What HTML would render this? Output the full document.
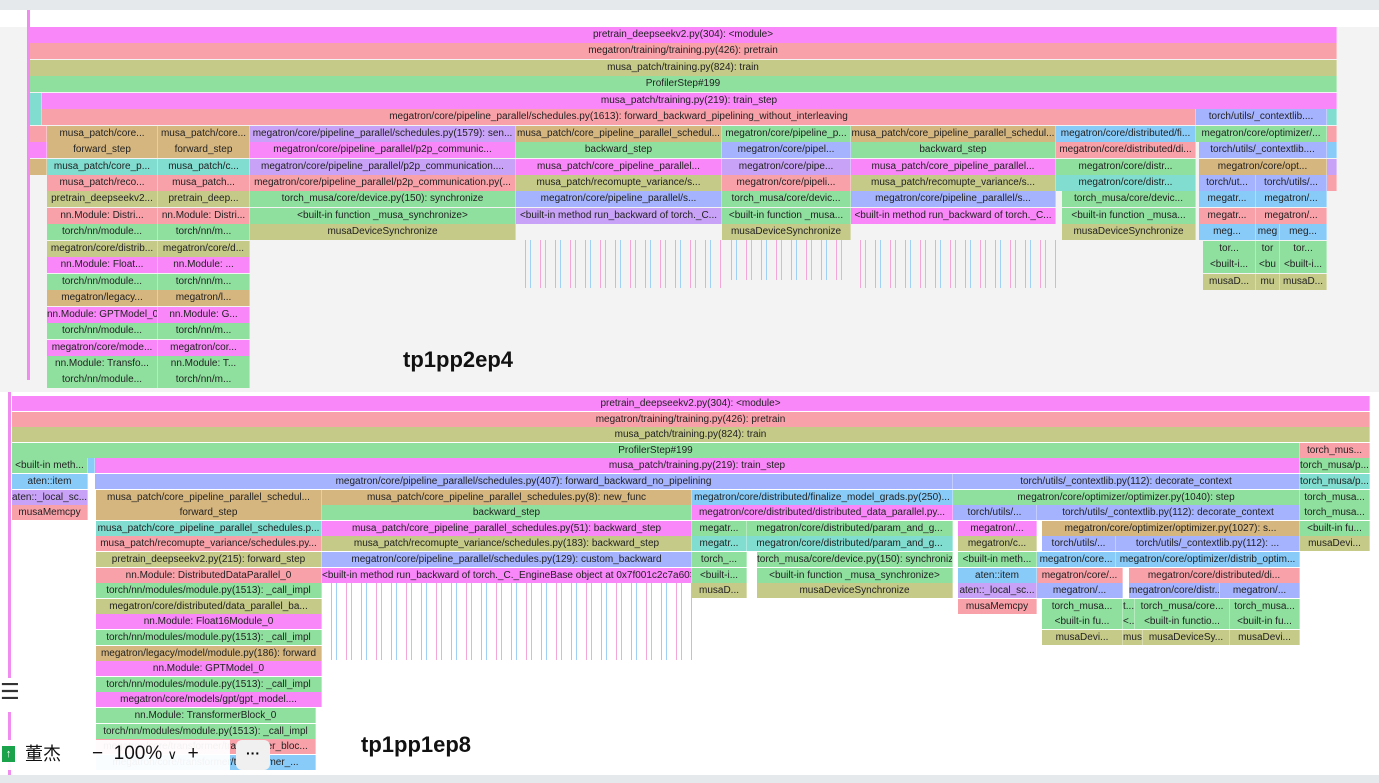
<!DOCTYPE html>
<html><head><meta charset="utf-8"><style>
body{margin:0;width:1379px;height:783px;position:relative;overflow:hidden;background:#fff;font-family:"Liberation Sans Narrow","Liberation Sans","Noto Sans CJK SC",sans-serif}
.d{position:absolute;overflow:hidden;white-space:nowrap;text-align:center;font-size:10px;color:#222;box-sizing:border-box;border-right:1px solid rgba(255,255,255,.35)}
.T{height:16px;line-height:16px}.B{height:15px;line-height:15px}
.p{background:#fa87fa}.s{background:#f9a1a9}.o{background:#c5ca88}.g{background:#8fe09e}.c{background:#80ddd0}.b{background:#a5b3ff}.l{background:#88cbf9}.t{background:#d6b67f}.v{background:#c8a2f7}
.st{position:absolute;background:repeating-linear-gradient(90deg,transparent 0 9px,#f4a6d8 9px 10px,transparent 10px 14px,#9fd0f5 14px 15px)}
.lab{position:absolute;font:bold 22px "Liberation Sans",sans-serif;color:#111}
</style></head><body>
<div style="position:absolute;left:0;top:0;width:1379px;height:10px;background:#e6e9ec"></div>
<div style="position:absolute;left:0;top:27px;width:1379px;height:365px;background:#f3f3f3"></div>
<div style="position:absolute;left:27px;top:10px;width:3px;height:370px;background:#f08cf0"></div>
<div style="position:absolute;left:0;top:775px;width:1379px;height:8px;background:#e6e9ec"></div>
<div style="position:absolute;left:8px;top:392px;width:3px;height:383px;background:#f08cf0"></div>

<!-- TOP PANEL -->
<div class="d T p" style="left:30px;top:27px;width:1307px">pretrain_deepseekv2.py(304): &lt;module&gt;</div>
<div class="d T s" style="left:30px;top:43px;width:1307px">megatron/training/training.py(426): pretrain</div>
<div class="d T o" style="left:30px;top:60px;width:1307px">musa_patch/training.py(824): train</div>
<div class="d T g" style="left:30px;top:76px;width:1307px">ProfilerStep#199</div>
<div class="d T c" style="left:30px;top:93px;width:12px"></div>
<div class="d T p" style="left:42px;top:93px;width:1295px">musa_patch/training.py(219): train_step</div>
<div class="d T c" style="left:30px;top:109px;width:12px"></div>
<div class="d T s" style="left:42px;top:109px;width:1154px">megatron/core/pipeline_parallel/schedules.py(1613): forward_backward_pipelining_without_interleaving</div>
<div class="d T b" style="left:1196px;top:109px;width:131px">torch/utils/_contextlib....</div>
<div class="d T c" style="left:1327px;top:109px;width:10px"></div>

<div class="d T s" style="left:30px;top:126px;width:17px"></div>
<div class="d T t" style="left:47px;top:126px;width:111px">musa_patch/core...</div>
<div class="d T t" style="left:158px;top:126px;width:92px">musa_patch/core...</div>
<div class="d T v" style="left:250px;top:126px;width:266px">megatron/core/pipeline_parallel/schedules.py(1579): sen...</div>
<div class="d T t" style="left:516px;top:126px;width:206px">musa_patch/core_pipeline_parallel_schedul...</div>
<div class="d T g" style="left:722px;top:126px;width:129px">megatron/core/pipeline_p...</div>
<div class="d T t" style="left:851px;top:126px;width:205px">musa_patch/core_pipeline_parallel_schedul...</div>
<div class="d T l" style="left:1056px;top:126px;width:140px">megatron/core/distributed/fi...</div>
<div class="d T g" style="left:1196px;top:126px;width:131px">megatron/core/optimizer/...</div>
<div class="d T s" style="left:1327px;top:126px;width:10px"></div>

<div class="d T p" style="left:30px;top:142px;width:17px"></div>
<div class="d T t" style="left:47px;top:142px;width:111px">forward_step</div>
<div class="d T t" style="left:158px;top:142px;width:92px">forward_step</div>
<div class="d T p" style="left:250px;top:142px;width:266px">megatron/core/pipeline_parallel/p2p_communic...</div>
<div class="d T g" style="left:516px;top:142px;width:206px">backward_step</div>
<div class="d T b" style="left:722px;top:142px;width:129px">megatron/core/pipel...</div>
<div class="d T g" style="left:851px;top:142px;width:205px">backward_step</div>
<div class="d T s" style="left:1056px;top:142px;width:140px">megatron/core/distributed/di...</div>
<div class="d T b" style="left:1199px;top:142px;width:128px">torch/utils/_contextlib....</div>
<div class="d T l" style="left:1327px;top:142px;width:10px"></div>

<div class="d T t" style="left:30px;top:159px;width:17px"></div>
<div class="d T c" style="left:47px;top:159px;width:111px">musa_patch/core_p...</div>
<div class="d T c" style="left:158px;top:159px;width:92px">musa_patch/c...</div>
<div class="d T v" style="left:250px;top:159px;width:266px">megatron/core/pipeline_parallel/p2p_communication....</div>
<div class="d T p" style="left:516px;top:159px;width:206px">musa_patch/core_pipeline_parallel...</div>
<div class="d T v" style="left:722px;top:159px;width:129px">megatron/core/pipe...</div>
<div class="d T p" style="left:851px;top:159px;width:205px">musa_patch/core_pipeline_parallel...</div>
<div class="d T g" style="left:1056px;top:159px;width:140px">megatron/core/distr...</div>
<div class="d T t" style="left:1199px;top:159px;width:128px">megatron/core/opt...</div>
<div class="d T v" style="left:1327px;top:159px;width:10px"></div>

<div class="d T s" style="left:47px;top:175px;width:111px">musa_patch/reco...</div>
<div class="d T s" style="left:158px;top:175px;width:92px">musa_patch...</div>
<div class="d T s" style="left:250px;top:175px;width:266px">megatron/core/pipeline_parallel/p2p_communication.py(...</div>
<div class="d T o" style="left:516px;top:175px;width:206px">musa_patch/recomupte_variance/s...</div>
<div class="d T s" style="left:722px;top:175px;width:129px">megatron/core/pipeli...</div>
<div class="d T o" style="left:851px;top:175px;width:205px">musa_patch/recomupte_variance/s...</div>
<div class="d T c" style="left:1056px;top:175px;width:140px">megatron/core/distr...</div>
<div class="d T b" style="left:1199px;top:175px;width:57px">torch/ut...</div>
<div class="d T b" style="left:1256px;top:175px;width:71px">torch/utils/...</div>
<div class="d T s" style="left:1327px;top:175px;width:10px"></div>

<div class="d T o" style="left:47px;top:191px;width:111px">pretrain_deepseekv2...</div>
<div class="d T o" style="left:158px;top:191px;width:92px">pretrain_deep...</div>
<div class="d T g" style="left:250px;top:191px;width:266px">torch_musa/core/device.py(150): synchronize</div>
<div class="d T b" style="left:516px;top:191px;width:206px">megatron/core/pipeline_parallel/s...</div>
<div class="d T g" style="left:722px;top:191px;width:129px">torch_musa/core/devic...</div>
<div class="d T b" style="left:851px;top:191px;width:205px">megatron/core/pipeline_parallel/s...</div>
<div class="d T g" style="left:1062px;top:191px;width:134px">torch_musa/core/devic...</div>
<div class="d T l" style="left:1199px;top:191px;width:57px">megatr...</div>
<div class="d T l" style="left:1256px;top:191px;width:71px">megatron/...</div>

<div class="d T s" style="left:47px;top:208px;width:111px">nn.Module: Distri...</div>
<div class="d T s" style="left:158px;top:208px;width:92px">nn.Module: Distri...</div>
<div class="d T g" style="left:250px;top:208px;width:266px">&lt;built-in function _musa_synchronize&gt;</div>
<div class="d T v" style="left:516px;top:208px;width:206px">&lt;built-in method run_backward of torch._C...</div>
<div class="d T g" style="left:722px;top:208px;width:129px">&lt;built-in function _musa...</div>
<div class="d T p" style="left:851px;top:208px;width:205px">&lt;built-in method run_backward of torch._C...</div>
<div class="d T g" style="left:1062px;top:208px;width:134px">&lt;built-in function _musa...</div>
<div class="d T s" style="left:1199px;top:208px;width:57px">megatr...</div>
<div class="d T s" style="left:1256px;top:208px;width:71px">megatron/...</div>

<div class="d T g" style="left:47px;top:224px;width:111px">torch/nn/module...</div>
<div class="d T g" style="left:158px;top:224px;width:92px">torch/nn/m...</div>
<div class="d T o" style="left:250px;top:224px;width:266px">musaDeviceSynchronize</div>
<div class="d T o" style="left:722px;top:224px;width:129px">musaDeviceSynchronize</div>
<div class="d T o" style="left:1062px;top:224px;width:134px">musaDeviceSynchronize</div>
<div class="d T l" style="left:1199px;top:224px;width:57px">meg...</div>
<div class="d T l" style="left:1256px;top:224px;width:24px">meg</div>
<div class="d T l" style="left:1280px;top:224px;width:47px">meg...</div>

<div class="d T o" style="left:47px;top:241px;width:111px">megatron/core/distrib...</div>
<div class="d T o" style="left:158px;top:241px;width:92px">megatron/core/d...</div>
<div class="d T g" style="left:1203px;top:241px;width:53px">tor...</div>
<div class="d T g" style="left:1256px;top:241px;width:24px">tor</div>
<div class="d T g" style="left:1280px;top:241px;width:47px">tor...</div>

<div class="d T p" style="left:47px;top:257px;width:111px">nn.Module: Float...</div>
<div class="d T p" style="left:158px;top:257px;width:92px">nn.Module: ...</div>
<div class="d T g" style="left:1203px;top:257px;width:53px">&lt;built-i...</div>
<div class="d T g" style="left:1256px;top:257px;width:24px">&lt;bu</div>
<div class="d T g" style="left:1280px;top:257px;width:47px">&lt;built-i...</div>

<div class="d T g" style="left:47px;top:274px;width:111px">torch/nn/module...</div>
<div class="d T g" style="left:158px;top:274px;width:92px">torch/nn/m...</div>
<div class="d T o" style="left:1203px;top:274px;width:53px">musaD...</div>
<div class="d T o" style="left:1256px;top:274px;width:24px">mu</div>
<div class="d T o" style="left:1280px;top:274px;width:47px">musaD...</div>

<div class="d T t" style="left:47px;top:290px;width:111px">megatron/legacy...</div>
<div class="d T t" style="left:158px;top:290px;width:92px">megatron/l...</div>
<div class="d T p" style="left:47px;top:307px;width:111px">nn.Module: GPTModel_0</div>
<div class="d T p" style="left:158px;top:307px;width:92px">nn.Module: G...</div>
<div class="d T g" style="left:47px;top:323px;width:111px">torch/nn/module...</div>
<div class="d T g" style="left:158px;top:323px;width:92px">torch/nn/m...</div>
<div class="d T p" style="left:47px;top:340px;width:111px">megatron/core/mode...</div>
<div class="d T p" style="left:158px;top:340px;width:92px">megatron/cor...</div>
<div class="d T g" style="left:47px;top:356px;width:111px">nn.Module: Transfo...</div>
<div class="d T g" style="left:158px;top:356px;width:92px">nn.Module: T...</div>
<div class="d T g" style="left:47px;top:372px;width:111px">torch/nn/module...</div>
<div class="d T g" style="left:158px;top:372px;width:92px">torch/nn/m...</div>

<div class="st" style="left:516px;top:240px;width:206px;height:48px"></div>
<div class="st" style="left:851px;top:240px;width:205px;height:48px"></div>
<div class="st" style="left:722px;top:240px;width:129px;height:40px"></div>
<div class="lab" style="left:403px;top:347px">tp1pp2ep4</div>

<!-- BOTTOM PANEL -->
<div class="d B p" style="left:12px;top:396px;width:1358px">pretrain_deepseekv2.py(304): &lt;module&gt;</div>
<div class="d B s" style="left:12px;top:412px;width:1358px">megatron/training/training.py(426): pretrain</div>
<div class="d B o" style="left:12px;top:427px;width:1358px">musa_patch/training.py(824): train</div>
<div class="d B g" style="left:12px;top:443px;width:1288px">ProfilerStep#199</div>
<div class="d B s" style="left:1300px;top:443px;width:70px">torch_mus...</div>
<div class="d B g" style="left:12px;top:458px;width:76px">&lt;built-in meth...</div>
<div class="d B l" style="left:88px;top:458px;width:7px"></div>
<div class="d B p" style="left:95px;top:458px;width:1205px">musa_patch/training.py(219): train_step</div>
<div class="d B g" style="left:1300px;top:458px;width:70px">torch_musa/p...</div>
<div class="d B l" style="left:12px;top:474px;width:76px">aten::item</div>
<div class="d B b" style="left:95px;top:474px;width:858px">megatron/core/pipeline_parallel/schedules.py(407): forward_backward_no_pipelining</div>
<div class="d B b" style="left:953px;top:474px;width:347px">torch/utils/_contextlib.py(112): decorate_context</div>
<div class="d B c" style="left:1300px;top:474px;width:70px">torch_musa/p...</div>

<div class="d B v" style="left:12px;top:490px;width:76px">aten::_local_sc...</div>
<div class="d B t" style="left:96px;top:490px;width:226px">musa_patch/core_pipeline_parallel_schedul...</div>
<div class="d B t" style="left:322px;top:490px;width:370px">musa_patch/core_pipeline_parallel_schedules.py(8): new_func</div>
<div class="d B l" style="left:692px;top:490px;width:261px">megatron/core/distributed/finalize_model_grads.py(250)...</div>
<div class="d B g" style="left:953px;top:490px;width:347px">megatron/core/optimizer/optimizer.py(1040): step</div>
<div class="d B g" style="left:1300px;top:490px;width:70px">torch_musa...</div>

<div class="d B s" style="left:12px;top:505px;width:76px">musaMemcpy</div>
<div class="d B t" style="left:96px;top:505px;width:226px">forward_step</div>
<div class="d B g" style="left:322px;top:505px;width:370px">backward_step</div>
<div class="d B p" style="left:692px;top:505px;width:261px">megatron/core/distributed/distributed_data_parallel.py...</div>
<div class="d B b" style="left:953px;top:505px;width:84px">torch/utils/...</div>
<div class="d B b" style="left:1037px;top:505px;width:263px">torch/utils/_contextlib.py(112): decorate_context</div>
<div class="d B g" style="left:1300px;top:505px;width:70px">torch_musa...</div>

<div class="d B c" style="left:96px;top:521px;width:226px">musa_patch/core_pipeline_parallel_schedules.p...</div>
<div class="d B p" style="left:322px;top:521px;width:370px">musa_patch/core_pipeline_parallel_schedules.py(51): backward_step</div>
<div class="d B g" style="left:692px;top:521px;width:55px">megatr...</div>
<div class="d B g" style="left:747px;top:521px;width:206px">megatron/core/distributed/param_and_g...</div>
<div class="d B p" style="left:958px;top:521px;width:79px">megatron/...</div>
<div class="d B t" style="left:1042px;top:521px;width:258px">megatron/core/optimizer/optimizer.py(1027): s...</div>
<div class="d B g" style="left:1300px;top:521px;width:70px">&lt;built-in fu...</div>

<div class="d B s" style="left:96px;top:536px;width:226px">musa_patch/recomupte_variance/schedules.py...</div>
<div class="d B o" style="left:322px;top:536px;width:370px">musa_patch/recomupte_variance/schedules.py(183): backward_step</div>
<div class="d B c" style="left:692px;top:536px;width:55px">megatr...</div>
<div class="d B c" style="left:747px;top:536px;width:206px">megatron/core/distributed/param_and_g...</div>
<div class="d B o" style="left:958px;top:536px;width:79px">megatron/c...</div>
<div class="d B b" style="left:1042px;top:536px;width:74px">torch/utils/...</div>
<div class="d B b" style="left:1116px;top:536px;width:184px">torch/utils/_contextlib.py(112): ...</div>
<div class="d B o" style="left:1300px;top:536px;width:70px">musaDevi...</div>

<div class="d B o" style="left:96px;top:552px;width:226px">pretrain_deepseekv2.py(215): forward_step</div>
<div class="d B b" style="left:322px;top:552px;width:370px">megatron/core/pipeline_parallel/schedules.py(129): custom_backward</div>
<div class="d B g" style="left:692px;top:552px;width:55px">torch_...</div>
<div class="d B g" style="left:757px;top:552px;width:196px">torch_musa/core/device.py(150): synchronize</div>
<div class="d B g" style="left:958px;top:552px;width:79px">&lt;built-in meth...</div>
<div class="d B l" style="left:1037px;top:552px;width:79px">megatron/core...</div>
<div class="d B l" style="left:1116px;top:552px;width:184px">megatron/core/optimizer/distrib_optim...</div>

<div class="d B s" style="left:96px;top:568px;width:226px">nn.Module: DistributedDataParallel_0</div>
<div class="d B p" style="left:322px;top:568px;width:370px">&lt;built-in method run_backward of torch._C._EngineBase object at 0x7f001c2c7a60&gt;</div>
<div class="d B g" style="left:692px;top:568px;width:55px">&lt;built-i...</div>
<div class="d B g" style="left:757px;top:568px;width:196px">&lt;built-in function _musa_synchronize&gt;</div>
<div class="d B l" style="left:958px;top:568px;width:79px">aten::item</div>
<div class="d B s" style="left:1037px;top:568px;width:86px">megatron/core/...</div>
<div class="d B s" style="left:1129px;top:568px;width:171px">megatron/core/distributed/di...</div>

<div class="d B g" style="left:96px;top:583px;width:226px">torch/nn/modules/module.py(1513): _call_impl</div>
<div class="d B o" style="left:692px;top:583px;width:55px">musaD...</div>
<div class="d B o" style="left:757px;top:583px;width:196px">musaDeviceSynchronize</div>
<div class="d B v" style="left:958px;top:583px;width:79px">aten::_local_sc...</div>
<div class="d B b" style="left:1037px;top:583px;width:86px">megatron/...</div>
<div class="d B b" style="left:1129px;top:583px;width:91px">megatron/core/distr...</div>
<div class="d B b" style="left:1220px;top:583px;width:80px">megatron/...</div>

<div class="d B o" style="left:96px;top:599px;width:226px">megatron/core/distributed/data_parallel_ba...</div>
<div class="d B s" style="left:958px;top:599px;width:79px">musaMemcpy</div>
<div class="d B g" style="left:1042px;top:599px;width:81px">torch_musa...</div>
<div class="d B g" style="left:1123px;top:599px;width:12px">t...</div>
<div class="d B g" style="left:1135px;top:599px;width:95px">torch_musa/core...</div>
<div class="d B g" style="left:1230px;top:599px;width:70px">torch_musa...</div>

<div class="d B p" style="left:96px;top:614px;width:226px">nn.Module: Float16Module_0</div>
<div class="d B g" style="left:1042px;top:614px;width:81px">&lt;built-in fu...</div>
<div class="d B g" style="left:1123px;top:614px;width:12px">&lt;...</div>
<div class="d B g" style="left:1135px;top:614px;width:95px">&lt;built-in functio...</div>
<div class="d B g" style="left:1230px;top:614px;width:70px">&lt;built-in fu...</div>

<div class="d B g" style="left:96px;top:630px;width:226px">torch/nn/modules/module.py(1513): _call_impl</div>
<div class="d B o" style="left:1042px;top:630px;width:81px">musaDevi...</div>
<div class="d B o" style="left:1123px;top:630px;width:20px">mus</div>
<div class="d B o" style="left:1143px;top:630px;width:87px">musaDeviceSy...</div>
<div class="d B o" style="left:1230px;top:630px;width:70px">musaDevi...</div>

<div class="d B t" style="left:96px;top:646px;width:226px">megatron/legacy/model/module.py(186): forward</div>
<div class="d B p" style="left:96px;top:661px;width:226px">nn.Module: GPTModel_0</div>
<div class="d B g" style="left:96px;top:677px;width:226px">torch/nn/modules/module.py(1513): _call_impl</div>
<div class="d B p" style="left:96px;top:692px;width:226px">megatron/core/models/gpt/gpt_model....</div>
<div class="d B g" style="left:96px;top:708px;width:220px">nn.Module: TransformerBlock_0</div>
<div class="d B g" style="left:96px;top:724px;width:220px">torch/nn/modules/module.py(1513): _call_impl</div>
<div class="d B s" style="left:96px;top:739px;width:220px">megatron/core/transformer/transformer_bloc...</div>
<div class="d B l" style="left:96px;top:755px;width:220px">megatron/core/transformer/transformer_...</div>

<div class="st" style="left:322px;top:583px;width:370px;height:77px"></div>
<div class="lab" style="left:361px;top:732px">tp1pp1ep8</div>

<!-- overlay widgets -->
<div style="position:absolute;left:0;top:678px;width:26px;height:34px;background:#fff;font:22px 'DejaVu Sans',sans-serif;color:#333;line-height:30px">☰</div>
<div style="position:absolute;left:0;top:740px;width:230px;height:30px;background:#fff;opacity:.95"></div>
<div style="position:absolute;left:2px;top:746px;width:13px;height:16px;background:#1aa34a;color:#fff;font:11px/16px sans-serif;text-align:center">↑</div>
<div style="position:absolute;left:25px;top:742px;font:18px/24px 'Liberation Sans','Noto Sans CJK SC',sans-serif;color:#111">董杰</div>
<div style="position:absolute;left:92px;top:742px;font:19px/24px 'Liberation Sans',sans-serif;color:#111">−&nbsp; 100% <span style="font-size:13px">∨</span> &nbsp;+</div>
<div style="position:absolute;left:236px;top:740px;width:34px;height:30px;background:#f0f0f0;border-radius:6px;text-align:center;font:bold 14px/26px sans-serif">···</div>
</body></html>
